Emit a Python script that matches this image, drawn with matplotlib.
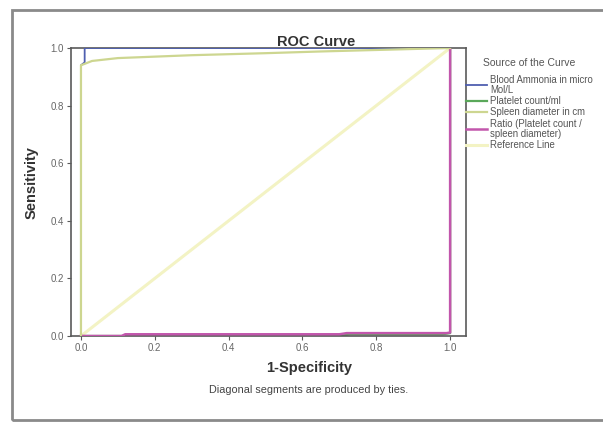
import matplotlib
matplotlib.use("Agg")
import matplotlib.pyplot as plt
from matplotlib.patches import Rectangle

plt.rcParams['font.family'] = ['Liberation Sans', 'DejaVu Sans']

# ---- data ----
series_names = [
    "Blood Ammonia in micro\nMol/L",
    "Platelet count/ml",
    "Spleen diameter in cm",
    "Ratio (Platelet count /\nspleen diameter)",
    "Reference Line",
]
series_colors = ["#4f5fb0", "#5aa85a", "#cdd690", "#c256ac", "#f3f3c4"]

ref_x = [0.0, 1.0]
ref_y = [0.0, 1.0]

ammonia_x = [0.0, 0.0, 0.01, 0.01, 1.0]
ammonia_y = [0.0, 0.94, 0.95, 1.0, 1.0]

spleen_x = [0.0, 0.0, 0.01, 0.03, 0.10, 0.30, 0.50, 0.65, 1.0]
spleen_y = [0.0, 0.94, 0.945, 0.955, 0.965, 0.975, 0.982, 0.988, 1.0]

platelet_x = [0.0, 0.70, 0.73, 0.93, 0.98, 1.0, 1.0]
platelet_y = [0.0, 0.0, 0.006, 0.006, 0.006, 0.01, 1.0]

ratio_x = [0.0, 0.11, 0.12, 0.70, 0.72, 0.93, 0.99, 1.0, 1.0]
ratio_y = [0.0, 0.0, 0.006, 0.006, 0.01, 0.01, 0.01, 0.012, 1.0]

x_ticks = [0.0, 0.2, 0.4, 0.6, 0.8, 1.0]
y_ticks = [0.0, 0.2, 0.4, 0.6, 0.8, 1.0]
tick_labels = ["0.0", "0.2", "0.4", "0.6", "0.8", "1.0"]

W, H = 603, 423
fig = plt.figure(figsize=(W / 100, H / 100), dpi=100)
fig.patch.set_facecolor("white")

# outer frame
fig.patches.append(Rectangle((12 / W, 3 / H), 1.0, (H - 13) / H, transform=fig.transFigure,
                             fill=False, edgecolor="#8a8a8a", linewidth=2.0))

ax = fig.add_axes([71 / W, (H - 336) / H, (466 - 71) / W, (336 - 48) / H])
ax.set_xlim(-0.027, 1.043)
ax.set_ylim(0.0, 1.0)

ax.plot(ref_x, ref_y, color=series_colors[4], lw=2.2, label=series_names[4], zorder=1)
ax.plot(platelet_x, platelet_y, color=series_colors[1], lw=1.6, label=series_names[1], zorder=2)
ax.plot(ratio_x, ratio_y, color=series_colors[3], lw=1.8, label=series_names[3], zorder=3)
ax.plot(ammonia_x, ammonia_y, color=series_colors[0], lw=1.3, label=series_names[0], zorder=4)
ax.plot(spleen_x, spleen_y, color=series_colors[2], lw=1.6, label=series_names[2], zorder=5)

for s in ax.spines.values():
    s.set_color("#5a5a5a")
    s.set_linewidth(1.2)

ax.set_xticks(x_ticks)
ax.set_xticklabels(tick_labels)
ax.set_yticks(y_ticks)
ax.set_yticklabels(tick_labels)
ax.tick_params(direction="out", length=3, width=0.8, colors="#5a5a5a",
               labelsize=7, labelcolor="#666666", pad=2)

fig.text(309 / W, 1 - 368 / H, "1-Specificity", ha="center", va="center",
         fontsize=10.5, fontweight="bold", color="#333333")
fig.text(32 / W, 1 - 183 / H, "Sensitivity", ha="center", va="center", rotation=90,
         fontsize=10.5, fontweight="bold", color="#333333")
fig.text(316 / W, 1 - 42 / H, "ROC Curve", ha="center", va="center",
         fontsize=10.5, fontweight="bold", color="#333333")
fig.text(309 / W, 1 - 390 / H, "Diagonal segments are produced by ties.", ha="center",
         va="center", fontsize=7.8, color="#444444")
fig.text(483 / W, 1 - 63 / H, "Source of the Curve", ha="left", va="center",
         fontsize=7.5, color="#555555")

handles, labels = ax.get_legend_handles_labels()
order = [labels.index(n) for n in series_names]
leg = fig.legend([handles[i] for i in order], [labels[i] for i in order],
                 loc="upper left", bbox_to_anchor=(466 / W, 1 - 75 / H),
                 frameon=False, fontsize=6.9, handlelength=2.2, handletextpad=0.3,
                 labelspacing=0.15, borderpad=0, borderaxespad=0)
for t in leg.get_texts():
    t.set_color("#555555")
    t.set_linespacing(0.95)

fig.savefig("out.png", dpi=100, facecolor="white")
